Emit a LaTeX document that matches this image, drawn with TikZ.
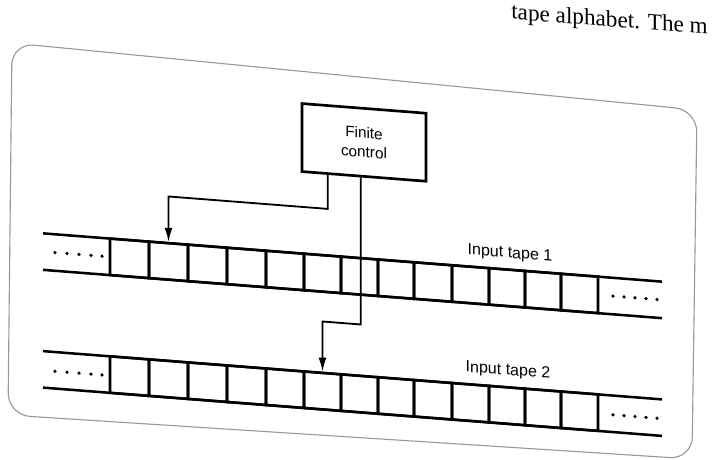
\documentclass[tikz,border=0pt]{standalone}
\usepackage{fontspec}
\setmainfont{Liberation Serif}
\setsansfont{Liberation Sans}
\usetikzlibrary{arrows.meta}

\begin{document}
\begin{tikzpicture}[x=0.25mm, y=-0.25mm,
        cell/.style={draw, rectangle, line width=1.8pt, minimum height=9.125mm, inner sep=0pt, transform shape},
        rail/.style={line width=1.8pt},
        box/.style={draw, rectangle, line width=1.9pt, minimum width=31mm, minimum height=17mm, align=center,
            font=\sffamily\fontsize{10.9}{13.5}\selectfont, transform shape},
        lbl/.style={font=\sffamily\fontsize{11.4}{13}\selectfont, inner sep=0pt, transform shape},
        conn/.style={line width=1.3pt, -{Latex[length=3.5mm, width=2mm]}},
        frame/.style={draw=black!40, line width=0.8pt, rounded corners=5.5mm}]
    \useasboundingbox (0,0) rectangle (725,459);

    \draw[frame] (12,43) -- (697,110) -- (692,459) -- (8,415) -- cycle;

    \begin{scope}[yslant=-0.078]
        \node (hdr) at (511,-21) [anchor=base west, inner sep=0pt, font=\fontsize{16.5}{18}\selectfont, transform shape] {tape alphabet. The m};

        \node (fc) at (364,114) [box] {Finite\\control};

        \draw[rail] (43,230) -- (662,230);
        \draw[rail] (43,266.5) -- (662,266.5);
        \draw[rail] (43,347.75) -- (662,347.75);
        \draw[rail] (43,384.25) -- (662,384.25);

        \foreach \a/\b [count=\i from 0, evaluate=\a as \w using (\b-\a)*0.25] in
            {110/149, 149/188, 188/227, 227/266, 266/304, 304/341, 341/378,
             378/414, 414/452, 452/489, 489/525, 525/561, 561/598} {
            \node (t1c\i) at ({(\a+\b)/2},248.25) [cell, minimum width=\w mm] {};
            \node (t2c\i) at ({(\a+\b)/2},366) [cell, minimum width=\w mm] {};
        }

        \foreach \x in {55,67,79,91,102,613,624,635,646,657} {
            \fill (\x,248.25) circle[radius=1.8];
            \fill (\x,367) circle[radius=1.8];
        }

        \node (lab1) at (510,214.2) [lbl] {Input tape 1};
        \node (lab2) at (508,331.4) [lbl] {Input tape 2};

        \draw[conn] (fc.south west) ++(27,0) -- ++(0,34) coordinate (k1) -- (k1 -| t1c1.north) -- (t1c1.north);
        \draw[conn] (fc.south west) ++(60,0) -- ++(0,147) coordinate (k2) -- (k2 -| t2c5.north) -- (t2c5.north);
    \end{scope}
\end{tikzpicture}
\end{document}
